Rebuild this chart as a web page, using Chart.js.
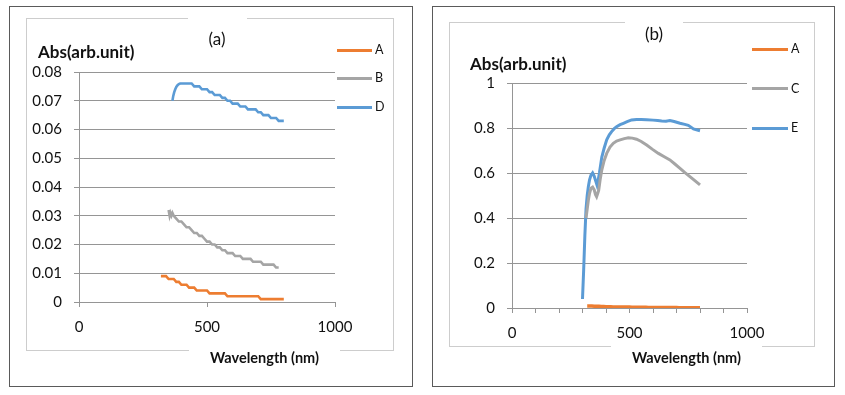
<!DOCTYPE html>
<html>
<head>
<meta charset="utf-8">
<script src="https://cdn.jsdelivr.net/npm/chart.js@4"></script>
<style>
  html, body { margin: 0; padding: 0; background: #fff; }
  body { width: 845px; height: 395px; position: relative; overflow: hidden; font-family: Lato, "Open Sans", sans-serif; color: #111; }
  .box { position: absolute; box-sizing: border-box; }
  .outer { border: 1px solid #5a5a5a; }
  .inner { border: 1px solid #cdcdcd; }
  .mask { position: absolute; background: #fff; }
  .txt { position: absolute; white-space: nowrap; line-height: 1; }
  .ttl { font-size: 17px; }
  .ytitle { font-size: 17px; font-weight: bold; }
  .xtitle { font-size: 14.5px; font-weight: bold; }
  .leg { font-size: 12.5px; }
  .legline { position: absolute; height: 3px; }
  canvas { position: absolute; top: 0; }
</style>
</head>
<body>
<!-- panel (a) frame -->
<div class="box outer" style="left:9px;top:6px;width:404px;height:381px;"></div>
<div class="box inner" style="left:26px;top:18px;width:368px;height:333px;"></div>
<div class="mask" style="left:188px;top:16px;width:59px;height:5px;"></div>
<div class="mask" style="left:189px;top:348px;width:151px;height:5px;"></div>
<!-- panel (b) frame -->
<div class="box outer" style="left:432px;top:6px;width:403px;height:381px;"></div>
<div class="box inner" style="left:449px;top:22px;width:366px;height:325px;"></div>
<div class="mask" style="left:625px;top:20px;width:58px;height:5px;"></div>
<div class="mask" style="left:611px;top:344px;width:151px;height:5px;"></div>

<canvas id="ca" width="420" height="395" style="left:0px;"></canvas>
<canvas id="cb" width="420" height="395" style="left:425px;"></canvas>

<div id="labels"></div>

<script>
// ---------------- DATA ----------------
const panelTitles = ["(a)", "(b)"];
const yAxisTitle = "Abs(arb.unit)";
const xAxisTitle = "Wavelength (nm)";

// Panel (a)
const wlA = [320,330,340,350,360,370,380,390,400,410,420,430,440,450,460,470,480,490,500,
             510,520,530,540,550,560,570,580,590,600,610,620,630,640,650,660,670,680,690,700,
             710,720,730,740,750,760,770,780,790,800];
const absA = [0.009,0.009,0.009,0.008,0.008,0.008,0.007,0.007,0.006,0.006,0.006,0.005,0.005,0.005,
              0.004,0.004,0.004,0.004,0.004,0.003,0.003,0.003,0.003,0.003,0.003,0.003,
              0.002,0.002,0.002,0.002,0.002,0.002,0.002,0.002,0.002,0.002,0.002,0.002,0.002,
              0.001,0.001,0.001,0.001,0.001,0.001,0.001,0.001,0.001,0.001];

const wlB = [350,354,357,361,365,370,380,390,400,410,420,430,440,450,460,470,480,490,500,510,
             520,530,540,550,560,570,580,590,600,610,620,630,640,650,660,670,680,690,700,710,
             720,730,740,750,760,770,780];
const absB = [0.032,0.030,0.031,0.030,0.031,0.030,0.029,0.028,0.028,0.027,0.026,0.026,0.025,0.024,
              0.024,0.023,0.023,0.022,0.021,0.021,0.020,0.020,0.019,0.019,0.018,0.018,0.017,0.017,
              0.017,0.016,0.016,0.016,0.015,0.015,0.015,0.015,0.014,0.014,0.014,0.014,0.013,0.013,
              0.013,0.013,0.013,0.012,0.012];

const wlD = [365,368,372,376,380,385,390,395,400,410,420,430,440,450,460,470,480,490,500,510,520,
             530,540,550,560,570,580,590,600,610,620,630,640,650,660,670,680,690,700,710,720,730,
             740,750,760,770,780,790,800];
const absD = [0.0700,0.0716,0.0730,0.0740,0.0748,0.0754,0.0758,0.0760,0.0760,0.0760,0.0760,0.0760,
              0.0760,0.0750,0.0750,0.0750,0.0740,0.0740,0.0740,0.0730,0.0730,0.0720,0.0720,0.0720,
              0.0710,0.0710,0.0700,0.0700,0.0690,0.0690,0.0690,0.0680,0.0680,0.0680,0.0670,0.0670,
              0.0670,0.0670,0.0660,0.0660,0.0650,0.0650,0.0650,0.0640,0.0640,0.0640,0.0630,0.0630,0.0630];

// Panel (b)
const wlC = [315,320,325,330,336,343,350,355,360,365,369,375,382,392,403,417,431,445,
             460,478,495,512,530,550,573,598,623,648,672,693,715,736,757,778,800];
const absC = [0.40,0.44,0.48,0.51,0.532,0.537,0.525,0.505,0.495,0.51,0.524,0.57,0.613,
              0.655,0.687,0.715,0.732,0.742,0.747,0.753,0.757,0.755,0.75,0.74,0.724,0.705,0.687,
              0.672,0.658,0.64,0.621,0.602,0.584,0.566,0.547];

const wlE = [300,305,310,315,320,325,330,336,343,350,356,362,367,372,377,382,392,403,414,424,435,
             445,460,474,490,509,530,550,573,600,620,637,655,672,690,715,735,750,760,772,785,800];
const absE = [0.04,0.17,0.32,0.44,0.50,0.54,0.57,0.59,0.60,0.585,0.565,0.545,0.57,0.60,0.635,0.67,
              0.71,0.747,0.77,0.784,0.797,0.806,0.815,0.821,0.828,0.836,0.838,0.838,0.837,0.835,
              0.833,0.831,0.830,0.833,0.829,0.821,0.816,0.812,0.805,0.796,0.792,0.788];

const xTicksA = [0, 500, 1000];
const xTicksB = [0, 500, 1000];

const seriesNamesA = ["A", "B", "D"];
const seriesNamesB = ["A", "C", "E"];
const colors = { A: "#ED7D31", B: "#A5A5A5", C: "#A5A5A5", D: "#5B9BD5", E: "#5B9BD5" };

// ---------------- BUILD ----------------
function pts(xs, ys) { return xs.map((x, i) => ({ x: x, y: ys[i] })); }

const GRID = "#959595";
const FONT = { family: "Lato, 'Open Sans', sans-serif", size: 15 };

function makeChart(canvasId, datasets, yMin, yMax, yStep, xStep, xLabels, yPad, xPad) {
  return new Chart(document.getElementById(canvasId), {
    type: "line",
    data: { datasets: datasets },
    options: {
      responsive: false,
      animation: false,
      events: [],
      layout: { padding: { left: 20, right: 85, top: 72, bottom: 50 } },
      plugins: { legend: { display: false }, tooltip: { enabled: false }, title: { display: false } },
      elements: { point: { radius: 0 }, line: { tension: 0 } },
      scales: {
        x: {
          type: "linear", min: 0, max: 1000,
          ticks: {
            stepSize: xStep, autoSkip: false, maxRotation: 0, color: "#111", font: FONT, padding: xPad,
            callback: (v) => xLabels.includes(v) ? String(v) : ""
          },
          grid: { drawOnChartArea: false, drawTicks: true, tickLength: 5, color: GRID, lineWidth: 1 },
          border: { display: true, color: GRID, width: 1 }
        },
        y: {
          type: "linear", min: yMin, max: yMax,
          ticks: {
            stepSize: yStep, color: "#111", font: FONT, padding: yPad,
            callback: (v) => String(Number(v.toFixed(4)))
          },
          grid: { drawOnChartArea: true, drawTicks: true, tickLength: 5, color: GRID, lineWidth: 1 },
          border: { display: true, color: GRID, width: 1 }
        }
      }
    }
  });
}

function fitArea(chart, t) {
  for (let i = 0; i < 4; i++) {
    const a = chart.chartArea, p = chart.options.layout.padding;
    p.left += t.left - a.left;
    p.top += t.top - a.top;
    p.right += a.right - t.right;
    p.bottom += a.bottom - t.bottom;
    chart.update("none");
  }
}

const dsA = [
  { label: "A", data: pts(wlA, absA), borderColor: colors.A, borderWidth: 2.6 },
  { label: "B", data: pts(wlB, absB), borderColor: colors.B, borderWidth: 2.6 },
  { label: "D", data: pts(wlD, absD), borderColor: colors.D, borderWidth: 2.6 }
];
const dsB = [
  { label: "A", data: pts(wlA, absA), borderColor: colors.A, borderWidth: 3.5 },
  { label: "C", data: pts(wlC, absC), borderColor: colors.C, borderWidth: 3 },
  { label: "E", data: pts(wlE, absE), borderColor: colors.E, borderWidth: 3 }
];

const chA = makeChart("ca", dsA, 0, 0.08, 0.01, 500, xTicksA, 12, 11);
const chB = makeChart("cb", dsB, 0, 1, 0.2, 100, xTicksB, 12, 11);
fitArea(chA, { left: 79, right: 335, top: 72, bottom: 302 });
fitArea(chB, { left: 87, right: 322, top: 83, bottom: 308 });

// ---------------- TEXT & LEGENDS ----------------
const L = document.getElementById("labels");
function addText(cls, text, left, cy, extra) {
  const d = document.createElement("div");
  d.className = "txt " + cls;
  d.textContent = text;
  d.style.left = left + "px";
  d.style.top = cy + "px";
  d.style.transform = "translateY(-50%)" + (extra || "");
  L.appendChild(d);
}
function addLegend(names, chart, x0, x1, ys) {
  names.forEach((n, i) => {
    const ln = document.createElement("div");
    ln.className = "legline";
    ln.style.left = x0 + "px";
    ln.style.width = (x1 - x0) + "px";
    ln.style.top = (ys[i] - 1.5) + "px";
    ln.style.background = chart.data.datasets[i].borderColor;
    L.appendChild(ln);
    addText("leg", n, x1 + 3, ys[i]);
  });
}

addText("ttl", panelTitles[0], 217, 38, " translateX(-50%)");
addText("ttl", panelTitles[1], 654, 33, " translateX(-50%)");
addText("ytitle", yAxisTitle, 38, 51);
addText("ytitle", yAxisTitle, 470, 63);
addText("xtitle", xAxisTitle, 210, 358);
addText("xtitle", xAxisTitle, 632, 358);
addLegend(seriesNamesA, chA, 337, 372, [50, 78, 107]);
addLegend(seriesNamesB, chB, 752, 788, [49, 88.5, 128]);
</script>
</body>
</html>
